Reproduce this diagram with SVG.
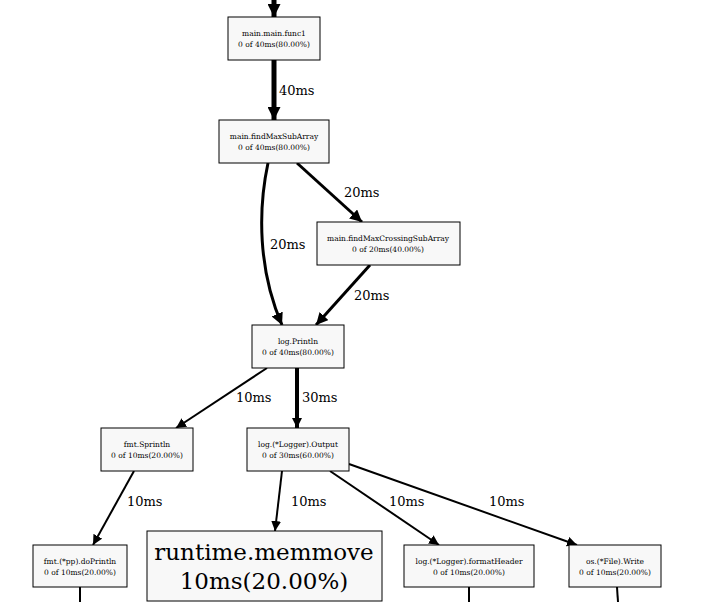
<svg xmlns="http://www.w3.org/2000/svg" width="720" height="602" viewBox="0 0 720 602">
<style>
text{font-family:'DejaVu Serif',serif;fill:#000}
.n rect{fill:#f8f8f8;stroke:#000;stroke-width:1}
.n text{font-size:7.5px;text-anchor:middle}
.big text{font-size:23px}
.e{fill:none;stroke:#000}
.l{font-size:13px}
</style>
<defs>
<marker id="a" viewBox="0 0 10 10" refX="10" refY="5" markerWidth="4" markerHeight="4" orient="auto" markerUnits="strokeWidth"><path d="M0,0L10,5L0,10z" fill="#000"/></marker>
<marker id="a2" viewBox="0 0 10 10" refX="10" refY="5" markerWidth="2.6" markerHeight="2.6" orient="auto" markerUnits="strokeWidth"><path d="M0,0L10,5L0,10z" fill="#000"/></marker>
<marker id="a3" viewBox="0 0 10 10" refX="10" refY="5" markerWidth="5" markerHeight="5" orient="auto" markerUnits="strokeWidth"><path d="M0,0L10,5L0,10z" fill="#000"/></marker>
</defs>
<g id="edges">
<path class="e" d="M274,0L274,17" stroke-width="5" marker-end="url(#a2)"/>
<path class="e" d="M274,60L274,120" stroke-width="5" marker-end="url(#a2)"/>
<path class="e" d="M268,163C258,210 258,270 282,325" stroke-width="3" marker-end="url(#a)"/>
<path class="e" d="M297,163L362,222" stroke-width="3" marker-end="url(#a)"/>
<path class="e" d="M370,265L316,325" stroke-width="3" marker-end="url(#a)"/>
<path class="e" d="M267,368L176,428" stroke-width="2" marker-end="url(#a3)"/>
<path class="e" d="M297,368L297,428" stroke-width="4" marker-end="url(#a2)"/>
<path class="e" d="M134,471L93,545" stroke-width="2" marker-end="url(#a3)"/>
<path class="e" d="M282,471L275,531" stroke-width="2" marker-end="url(#a3)"/>
<path class="e" d="M330,471L439,545" stroke-width="2" marker-end="url(#a3)"/>
<path class="e" d="M349,464L577,545" stroke-width="2" marker-end="url(#a3)"/>
<path class="e" d="M80,587L80,602" stroke-width="2"/>
<path class="e" d="M469,587L469,602" stroke-width="2"/>
<path class="e" d="M617,587L618,602" stroke-width="2"/>
<text class="l" x="279" y="95">40ms</text>
<text class="l" x="270" y="249">20ms</text>
<text class="l" x="344" y="197">20ms</text>
<text class="l" x="354" y="300">20ms</text>
<text class="l" x="236" y="402">10ms</text>
<text class="l" x="302" y="402">30ms</text>
<text class="l" x="127" y="506">10ms</text>
<text class="l" x="291" y="506">10ms</text>
<text class="l" x="389" y="506">10ms</text>
<text class="l" x="489" y="506">10ms</text>
</g>
<g id="n1" class="n"><rect x="228" y="17" width="92" height="43"/><text x="274" y="36">main.main.func1</text><text x="274" y="47">0 of 40ms(80.00%)</text></g>
<g id="n2" class="n"><rect x="219" y="120" width="110" height="43"/><text x="274" y="139">main.findMaxSubArray</text><text x="274" y="150">0 of 40ms(80.00%)</text></g>
<g id="n3" class="n"><rect x="317" y="222" width="143" height="43"/><text x="388" y="241">main.findMaxCrossingSubArray</text><text x="388" y="252">0 of 20ms(40.00%)</text></g>
<g id="n4" class="n"><rect x="252" y="325" width="92" height="43"/><text x="298" y="344">log.Println</text><text x="298" y="355">0 of 40ms(80.00%)</text></g>
<g id="n5" class="n"><rect x="101" y="428" width="92" height="43"/><text x="147" y="447">fmt.Sprintln</text><text x="147" y="458">0 of 10ms(20.00%)</text></g>
<g id="n6" class="n"><rect x="247" y="428" width="102" height="43"/><text x="298" y="447">log.(*Logger).Output</text><text x="298" y="458">0 of 30ms(60.00%)</text></g>
<g id="n7" class="n"><rect x="33" y="545" width="94" height="42"/><text x="80" y="564">fmt.(*pp).doPrintln</text><text x="80" y="575">0 of 10ms(20.00%)</text></g>
<g id="n8" class="n big"><rect x="147" y="531" width="235" height="70"/><text x="264" y="560">runtime.memmove</text><text x="264" y="589">10ms(20.00%)</text></g>
<g id="n9" class="n"><rect x="404" y="545" width="130" height="42"/><text x="469" y="564">log.(*Logger).formatHeader</text><text x="469" y="575">0 of 10ms(20.00%)</text></g>
<g id="n10" class="n"><rect x="569" y="545" width="92" height="42"/><text x="615" y="564">os.(*File).Write</text><text x="615" y="575">0 of 10ms(20.00%)</text></g>
</svg>
